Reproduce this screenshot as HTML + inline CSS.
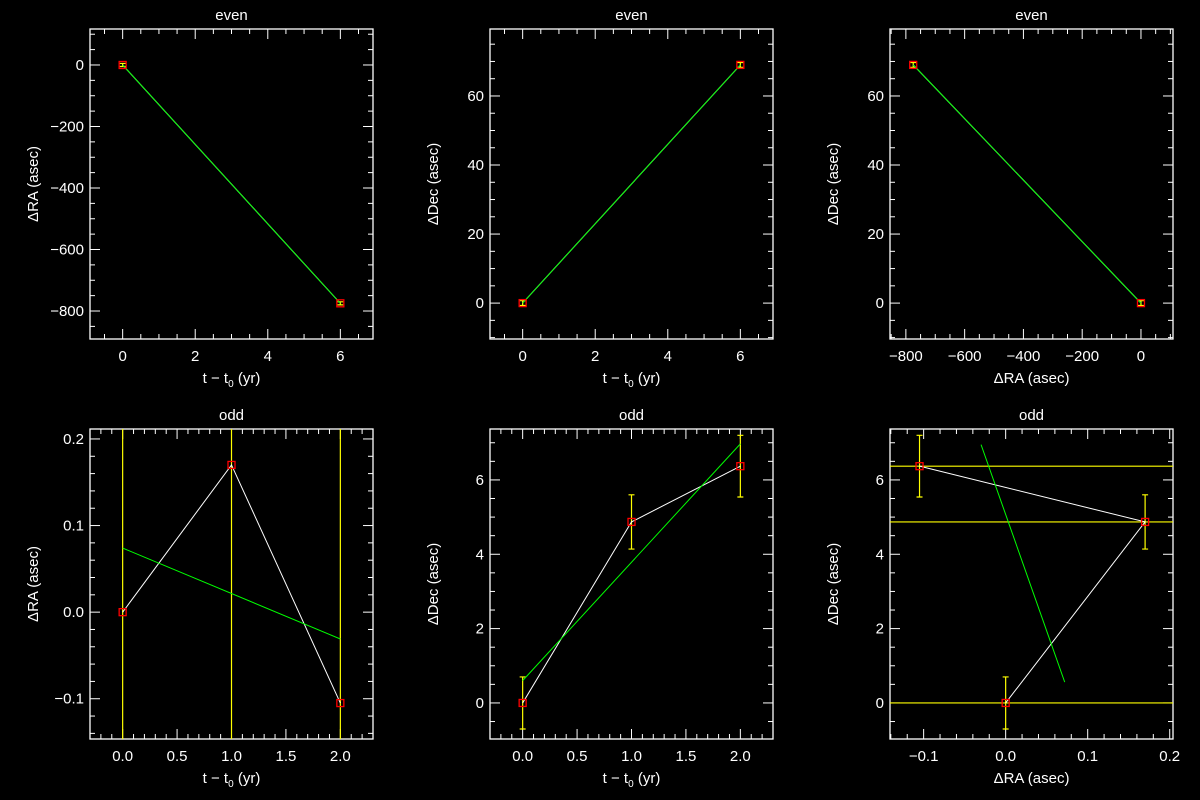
<!DOCTYPE html>
<html><head><meta charset="utf-8"><style>
html,body{margin:0;padding:0;background:#000;width:1200px;height:800px;overflow:hidden;}
svg{display:block;font-family:"Liberation Sans",sans-serif;}
</style></head><body>
<svg id="chart" width="1200" height="800" viewBox="0 0 1200 800">
<rect x="0" y="0" width="1200" height="800" fill="#000"/>
</svg>
<script>
// Data
const evenT = [0, 6];
const evenRA = [0, -775];
const evenDec = [0, 69];
const evenRAerr = [5, 5];
const evenDecerr = [0.7, 0.7];
const evenFitRA = [0, -775];
const evenFitDec = [0, 69];
const oddT = [0, 1, 2];
const oddRA = [0, 0.17, -0.105];
const oddDec = [0, 4.87, 6.37];
const oddRAerr = [2, 2, 2];
const oddDecerr = [0.7, 0.73, 0.83];
const oddFitT = [0, 2];
const oddFitRA = [0.074, -0.031];
const oddFitDec = [0.6, 6.97];
const oddFitRApath = [-0.030, 0.072];
const oddFitDecpath = [6.95, 0.56];

// Tick labels
const tTicksEven = [0, 2, 4, 6];
const raTicksEven = [0, -200, -400, -600, -800];
const decTicksEven = [0, 20, 40, 60];
const raTicksEvenX = [-800, -600, -400, -200, 0];
const tTicksOdd = [0, 0.5, 1, 1.5, 2];
const raTicksOdd = [-0.1, 0, 0.1, 0.2];
const decTicksOdd = [0, 2, 4, 6];
const raTicksOddX = [-0.1, 0, 0.1, 0.2];

const NS = "http://www.w3.org/2000/svg";
const svg = document.getElementById("chart");
function mk(tag, attrs, parent) {
  const e = document.createElementNS(NS, tag);
  for (const k in attrs) e.setAttribute(k, attrs[k]);
  (parent || svg).appendChild(e);
  return e;
}
function mkText(str, attrs, parent) { const t = mk("text", attrs, parent); t.textContent = str; return t; }

function panel(cfg) {
  const g = mk("g", {});
  
  
  const L = cfg.x0, R = cfg.x0 + 283, T = cfg.y0, B = cfg.y0 + 310;
  const sx = v => L + (v - cfg.xr[0]) / (cfg.xr[1] - cfg.xr[0]) * (R - L);
  const sy = v => B - (v - cfg.yr[0]) / (cfg.yr[1] - cfg.yr[0]) * (B - T);
  const clip = "clip-" + cfg.name;
  const cp = mk("clipPath", { id: clip }, g);
  mk("rect", { x: L, y: T, width: R - L, height: B - T }, cp);
  const fr = mk("rect", { x: L, y: T, width: R - L, height: B - T, fill: "none", stroke: "#fff", "stroke-width": 1.3 }, g);
  
  
  for (let v = Math.ceil(cfg.xr[0] / cfg.xminor) * cfg.xminor; v <= cfg.xr[1] + 1e-9; v += cfg.xminor) {
    const x = sx(v);
    const major = cfg.xt.some(m => Math.abs(m - v) < 1e-6);
    const len = major ? 10 : 5;
    mk("line", { x1: x, y1: B, x2: x, y2: B - len, stroke: "#fff" }, g);
    mk("line", { x1: x, y1: T, x2: x, y2: T + len, stroke: "#fff" }, g);
  }
  for (let v = Math.ceil(cfg.yr[0] / cfg.yminor) * cfg.yminor; v <= cfg.yr[1] + 1e-9; v += cfg.yminor) {
    const y = sy(v);
    const major = cfg.yt.some(m => Math.abs(m - v) < 1e-6);
    const len = major ? 10 : 5;
    mk("line", { x1: L, y1: y, x2: L + len, y2: y, stroke: "#fff" }, g);
    mk("line", { x1: R, y1: y, x2: R - len, y2: y, stroke: "#fff" }, g);
  }
  cfg.xt.forEach(v => {
    const t = mkText(cfg.fmt(v), { x: sx(v), y: B + 22, fill: "#fff", "font-size": 15, "text-anchor": "middle" }, g);
    
    
  });
  cfg.yt.forEach(v => {
    const t = mkText(cfg.fmty(v), { x: L - 6, y: sy(v) + 5, fill: "#fff", "font-size": 15, "text-anchor": "end" }, g);
    
    
  });
  const ti = mkText(cfg.title, { x: (L + R) / 2, y: T - 9, fill: "#fff", "font-size": 15, "text-anchor": "middle" }, g);
  
  
  const xl = mk("text", { x: (L + R) / 2, y: B + 44, fill: "#fff", "font-size": 15, "text-anchor": "middle" }, g);
  xl.innerHTML = cfg.xlabel;
  
  
  const yl = mkText(cfg.ylabel, { x: 0, y: 0, fill: "#fff", "font-size": 15, "text-anchor": "middle", transform: `translate(${L - 52},${(T + B) / 2}) rotate(-90)` }, g);
  
  

  const d = mk("g", { "clip-path": `url(#${clip})` }, g);
  cfg.px.forEach((xv, i) => {
    if (cfg.ey) {
      const e = cfg.ey[i];
      const y1 = sy(cfg.py[i] - e), y2 = sy(cfg.py[i] + e), x = sx(xv);
      const eb = mk("path", { d: `M${x},${y1}V${y2}M${x - 3},${y1}h6M${x - 3},${y2}h6`, stroke: "#ff0", fill: "none", "stroke-width": 1.2 }, d);
      
      
    }
    if (cfg.ex) {
      const e = cfg.ex[i];
      const x1 = sx(xv - e), x2 = sx(xv + e), y = sy(cfg.py[i]);
      const eb = mk("line", { x1: x1, y1: y, x2: x2, y2: y, stroke: "#ff0", "stroke-width": 1.2 }, d);
      
      
    }
  });
  const ln = mk("polyline", { points: cfg.px.map((v, i) => sx(v) + "," + sy(cfg.py[i])).join(" "), fill: "none", stroke: "#fff", "stroke-width": 1 }, d);
  
  
  const fl = mk("polyline", { points: cfg.fx.map((v, i) => sx(v) + "," + sy(cfg.fy[i])).join(" "), fill: "none", stroke: "#0f0", "stroke-width": 1 }, d);
  
  
  cfg.px.forEach((v, i) => {
    const m = mk("rect", { x: sx(v) - 3.5, y: sy(cfg.py[i]) - 3.5, width: 7, height: 7, fill: "none", stroke: "#f00", "stroke-width": 1.3 }, g);
    
    
  });
}
const f0 = v => String(v).replace("-", "\u2212");
const f1 = v => v.toFixed(1).replace("-", "\u2212");
const tlab = 't \u2212 t<tspan font-size="10" dy="4">0</tspan><tspan dy="-4"> (yr)</tspan>';

panel({ name: "even-ra-vs-time", x0: 90, y0: 29, xr: [-0.9, 6.9], yr: [-891, 117], xt: tTicksEven, yt: raTicksEven, xminor: 0.5, yminor: 50, fmt: f0, fmty: f0,
  title: "even", xlabel: tlab, ylabel: "\u0394RA (asec)", px: evenT, py: evenRA, ey: evenRAerr, fx: evenT, fy: evenFitRA });
panel({ name: "even-dec-vs-time", x0: 490, y0: 29, xr: [-0.9, 6.9], yr: [-10.4, 79.4], xt: tTicksEven, yt: decTicksEven, xminor: 0.5, yminor: 5, fmt: f0, fmty: f0,
  title: "even", xlabel: tlab, ylabel: "\u0394Dec (asec)", px: evenT, py: evenDec, ey: evenDecerr, fx: evenT, fy: evenFitDec });
panel({ name: "even-dec-vs-ra", x0: 890, y0: 29, xr: [-854, 109], yr: [-10.4, 79.4], xt: raTicksEvenX, yt: decTicksEven, xminor: 50, yminor: 5, fmt: f0, fmty: f0,
  title: "even", xlabel: "\u0394RA (asec)", ylabel: "\u0394Dec (asec)", px: evenRA, py: evenDec, ey: evenDecerr, fx: evenFitRA, fy: evenFitDec });
panel({ name: "odd-ra-vs-time", x0: 90, y0: 429, xr: [-0.3, 2.3], yr: [-0.1465, 0.2115], xt: tTicksOdd, yt: raTicksOdd, xminor: 0.1, yminor: 0.02, fmt: f1, fmty: f1,
  title: "odd", xlabel: tlab, ylabel: "\u0394RA (asec)", px: oddT, py: oddRA, ey: oddRAerr, fx: oddFitT, fy: oddFitRA });
panel({ name: "odd-dec-vs-time", x0: 490, y0: 429, xr: [-0.3, 2.3], yr: [-0.97, 7.37], xt: tTicksOdd, yt: decTicksOdd, xminor: 0.1, yminor: 0.5, fmt: f1, fmty: f0,
  title: "odd", xlabel: tlab, ylabel: "\u0394Dec (asec)", px: oddT, py: oddDec, ey: oddDecerr, fx: oddFitT, fy: oddFitDec });
panel({ name: "odd-dec-vs-ra", x0: 890, y0: 429, xr: [-0.141, 0.204], yr: [-0.97, 7.37], xt: raTicksOddX, yt: decTicksOdd, xminor: 0.02, yminor: 0.5, fmt: f1, fmty: f0,
  title: "odd", xlabel: "\u0394RA (asec)", ylabel: "\u0394Dec (asec)", px: oddRA, py: oddDec, ey: oddDecerr, ex: oddRAerr, fx: oddFitRApath, fy: oddFitDecpath });
</script>
</body></html>
